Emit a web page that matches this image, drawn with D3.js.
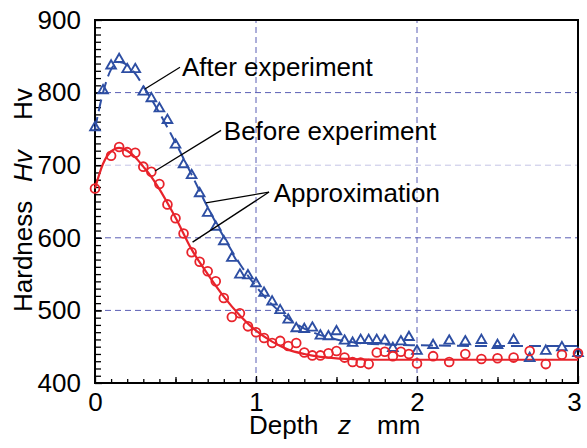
<!DOCTYPE html>
<html lang="en">
<head>
<meta charset="UTF-8">
<title>Hardness vs depth</title>
<style>
  body { margin: 0; background: #fff; }
  text { font-family: "Liberation Sans", Arial, Helvetica, sans-serif; }
</style>
<script src="https://d3js.org/d3.v7.min.js"></script>
</head>
<body>
<div id="chart"></div>
<script>
// measured points, before experiment (circles)
var depthBefore = [0, 0.1, 0.15, 0.2, 0.25, 0.3, 0.35, 0.4, 0.45, 0.5, 0.55, 0.6, 0.65, 0.7, 0.75, 0.8, 0.85, 0.9, 0.95, 1.0,
    1.05, 1.1, 1.15, 1.2, 1.25, 1.3, 1.35, 1.4, 1.45, 1.5, 1.55, 1.6, 1.65, 1.7, 1.75, 1.8, 1.85, 1.9, 1.95, 2.0,
    2.1, 2.2, 2.3, 2.4, 2.5, 2.6, 2.7, 2.8, 2.9, 3.0]
var hvBefore = [668, 713, 725, 718, 717, 698, 691, 674, 646, 627, 606, 580, 567, 554, 540, 517, 491, 496, 478, 470,
    462, 455, 458, 451, 455, 442, 438, 438, 441, 444, 435, 429, 428, 426, 442, 443, 437, 443, 440, 427,
    437, 429, 440, 433, 434, 435, 444, 426, 439, 441]

// measured points, after experiment (triangles)
var depthAfter = [0, 0.05, 0.1, 0.15, 0.2, 0.25, 0.3, 0.35, 0.4, 0.45, 0.5, 0.55, 0.6, 0.65, 0.7, 0.75, 0.8, 0.85, 0.9, 0.95, 1.0,
    1.05, 1.1, 1.15, 1.2, 1.25, 1.3, 1.35, 1.4, 1.45, 1.5, 1.55, 1.6, 1.65, 1.7, 1.75, 1.8, 1.85, 1.9, 1.95, 2.0,
    2.1, 2.2, 2.3, 2.4, 2.5, 2.6, 2.7, 2.8, 2.9, 3.0]
var hvAfter = [752, 803, 837, 846, 832, 832, 801, 792, 778, 762, 728, 701, 686, 661, 634, 615, 595, 572, 549, 548, 537,
    524, 512, 500, 487, 475, 474, 476, 465, 464, 471, 458, 455, 459, 459, 459, 458, 448, 457, 463, 444,
    452, 458, 457, 459, 452, 459, 434, 444, 449, 441]

// approximation curves
var depthFit = [0, 0.05, 0.1, 0.15, 0.2, 0.25, 0.3, 0.35, 0.4, 0.45, 0.5, 0.6, 0.7, 0.8, 0.9, 1.0, 1.1, 1.2, 1.3, 1.4, 1.5, 1.6, 1.8, 2.0, 2.5, 3.0]
var fitBefore = [668, 702, 719, 724, 720, 711, 698, 684, 667, 648, 628, 584, 550, 519, 493, 472, 457, 446, 440, 436, 434, 433, 432, 432, 432, 432]
var fitAfter = [750, 800, 832, 842, 838, 826, 809, 791, 772, 752, 731, 687, 642, 601, 564, 533, 508, 489, 475, 466, 460, 456, 453, 452, 451, 451]

// axis ticks
var xTicks = [0, 1, 2, 3]
var yTicks = [400, 500, 600, 700, 800, 900]
var xGrid = [1, 2]
var yGrid = [500, 600, 700, 800]

var red = "#e8232b", blue = "#2d4ea3", gridColor = "#5b5fb5"

var width = 587, height = 448
var margin = {top: 20, right: 9, bottom: 65, left: 95}

var svg = d3.select("#chart").append("svg")
    .attr("width", width)
    .attr("height", height)

var x = d3.scaleLinear().domain([0, 3]).range([margin.left, width - margin.right])
var y = d3.scaleLinear().domain([400, 900]).range([height - margin.bottom, margin.top])

// grid
svg.append("g").selectAll("line").data(xGrid).enter().append("line")
    .attr("x1", function(d) { return x(d) }).attr("x2", function(d) { return x(d) })
    .attr("y1", y(400)).attr("y2", y(900))
    .attr("stroke", gridColor).attr("stroke-width", 1).attr("stroke-dasharray", "6,4")
svg.append("g").selectAll("line").data(yGrid).enter().append("line")
    .attr("x1", x(0)).attr("x2", x(3))
    .attr("y1", function(d) { return y(d) }).attr("y2", function(d) { return y(d) })
    .attr("stroke", function(d) { return d == 700 ? "#c4c4e6" : gridColor })
    .attr("stroke-width", 1).attr("stroke-dasharray", "6,4")

// minor ticks (inward)
svg.append("g")
    .attr("transform", "translate(0," + y(400) + ")")
    .call(d3.axisBottom(x).tickValues(d3.range(1, 30).map(function(i) { return i / 10 }))
        .tickSizeInner(-4).tickSizeOuter(0).tickFormat(""))
svg.append("g")
    .attr("transform", "translate(0," + y(400) + ")")
    .call(d3.axisBottom(x).tickValues([0.5, 1.5, 2.5]).tickSizeInner(-6).tickSizeOuter(0).tickFormat(""))
svg.append("g")
    .attr("transform", "translate(" + x(0) + ",0)")
    .call(d3.axisLeft(y).tickValues(d3.range(41, 90).map(function(i) { return i * 10 }))
        .tickSizeInner(-6).tickSizeOuter(0).tickFormat(""))

// major ticks with labels
var xAxis = svg.append("g")
    .attr("transform", "translate(0," + y(400) + ")")
    .call(d3.axisBottom(x).tickValues(xTicks).tickSizeInner(-7).tickSizeOuter(0).tickPadding(10).tickFormat(d3.format("d")))
var yAxis = svg.append("g")
    .attr("transform", "translate(" + x(0) + ",0)")
    .call(d3.axisLeft(y).tickValues(yTicks).tickSizeInner(-7).tickSizeOuter(0).tickPadding(14))

svg.selectAll(".domain").remove()
svg.selectAll(".tick line").attr("stroke", "#000").attr("stroke-width", 1.3)
svg.selectAll(".tick text").attr("fill", "#000").style("font-size", "26px")
    .style("font-family", "'Liberation Sans', Arial, sans-serif")
// last x label sits a little inside the page edge
xAxis.selectAll(".tick text").filter(function(d) { return d == 3 }).attr("dx", -4)

// frame
svg.append("rect")
    .attr("x", x(0)).attr("y", y(900))
    .attr("width", x(3) - x(0)).attr("height", y(400) - y(900))
    .attr("fill", "none").attr("stroke", "#000").attr("stroke-width", 2)

// approximation lines
var line = d3.line()
    .x(function(d) { return x(d[0]) })
    .y(function(d) { return y(d[1]) })
    .curve(d3.curveMonotoneX)

svg.append("path")
    .datum(d3.zip(depthFit, fitAfter))
    .attr("d", line).attr("fill", "none")
    .attr("stroke", blue).attr("stroke-width", 2).attr("stroke-dasharray", "12,6")
svg.append("path")
    .datum(d3.zip(depthFit, fitBefore))
    .attr("d", line).attr("fill", "none")
    .attr("stroke", red).attr("stroke-width", 2.2)

// markers
svg.append("g").selectAll("path").data(d3.zip(depthAfter, hvAfter)).enter().append("path")
    .attr("d", d3.symbol().type(d3.symbolTriangle).size(40))
    .attr("transform", function(d) { return "translate(" + x(d[0]) + "," + y(d[1]) + ")" })
    .attr("fill", "none").attr("stroke", blue).attr("stroke-width", 1.9)
svg.append("g").selectAll("circle").data(d3.zip(depthBefore, hvBefore)).enter().append("circle")
    .attr("cx", function(d) { return x(d[0]) })
    .attr("cy", function(d) { return y(d[1]) })
    .attr("r", 4.4)
    .attr("fill", "none").attr("stroke", red).attr("stroke-width", 1.8)

// annotations
var leaders = [
    [[0.528, 835], [0.31, 805]],
    [[0.783, 748], [0.373, 692]],
    [[1.081, 663], [0.689, 648]],
    [[1.081, 663], [0.606, 594]]
]
svg.append("g").selectAll("line").data(leaders).enter().append("line")
    .attr("x1", function(d) { return x(d[0][0]) }).attr("y1", function(d) { return y(d[0][1]) })
    .attr("x2", function(d) { return x(d[1][0]) }).attr("y2", function(d) { return y(d[1][1]) })
    .attr("stroke", "#000").attr("stroke-width", 1.3)

var notes = [
    {t: "After experiment", d: 0.54, v: 823},
    {t: "Before experiment", d: 0.80, v: 735},
    {t: "Approximation", d: 1.11, v: 650}
]
svg.append("g").selectAll("text").data(notes).enter().append("text")
    .attr("x", function(d) { return x(d.d) })
    .attr("y", function(d) { return y(d.v) })
    .style("font-size", "26px")
    .text(function(d) { return d.t })

// axis titles
svg.append("text").attr("x", 249).attr("y", 434).style("font-size", "26px").text("Depth")
svg.append("text").attr("x", 338).attr("y", 434).style("font-size", "26px").style("font-style", "italic").text("z")
svg.append("text").attr("x", 377).attr("y", 434).style("font-size", "26px").text("mm")

svg.append("text").attr("transform", "translate(32,312) rotate(-90)").style("font-size", "26px").text("Hardness")
svg.append("text").attr("transform", "translate(32,182) rotate(-90)").style("font-size", "26px").style("font-style", "italic").text("Hv")
svg.append("text").attr("transform", "translate(32,120) rotate(-90)").style("font-size", "26px").text("Hv")
</script>
</body>
</html>
